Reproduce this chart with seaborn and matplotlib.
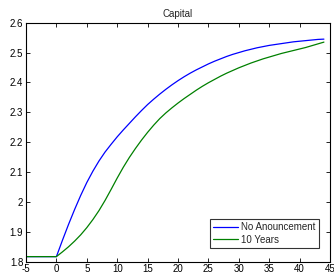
import numpy as np
import pandas as pd
import matplotlib
matplotlib.use("Agg")
import matplotlib.pyplot as plt
import seaborn as sns

# Data
t = [-5] + list(range(0, 45))
no_announcement = [1.817,
                   1.817, 1.872, 1.925, 1.975, 2.022, 2.065, 2.103, 2.137, 2.167, 2.193,
                   2.218, 2.241, 2.263, 2.285, 2.306, 2.326, 2.344, 2.361, 2.377, 2.392,
                   2.406, 2.419, 2.431, 2.442, 2.452, 2.462, 2.471, 2.479, 2.487, 2.494,
                   2.500, 2.506, 2.511, 2.516, 2.520, 2.524, 2.527, 2.530, 2.533, 2.536,
                   2.538, 2.540, 2.542, 2.544, 2.545]
ten_years = [1.817,
             1.817, 1.833, 1.850, 1.869, 1.890, 1.914, 1.941, 1.971, 2.005, 2.042,
             2.080, 2.116, 2.149, 2.179, 2.207, 2.233, 2.257, 2.279, 2.298, 2.315,
             2.331, 2.346, 2.360, 2.374, 2.387, 2.399, 2.410, 2.421, 2.431, 2.440,
             2.449, 2.457, 2.465, 2.472, 2.479, 2.485, 2.491, 2.497, 2.502, 2.507,
             2.512, 2.517, 2.523, 2.529, 2.535]
series_names = ["No Anouncement", "10 Years"]
x_ticks = list(range(-5, 50, 5))
y_ticks = [1.8, 1.9, 2.0, 2.1, 2.2, 2.3, 2.4, 2.5, 2.6]

df = pd.concat([
    pd.DataFrame({"t": t, "capital": no_announcement, "series": series_names[0]}),
    pd.DataFrame({"t": t, "capital": ten_years, "series": series_names[1]}),
])

sns.set_style("white")
plt.rcParams["font.family"] = ["Liberation Sans", "DejaVu Sans"]

fig = plt.figure(figsize=(3.34, 2.72), dpi=100)
ax = fig.add_axes([26 / 334, 10.3 / 272, 304 / 334, 239 / 272])

sns.lineplot(data=df, x="t", y="capital", hue="series", palette=["#0000ff", "#008000"],
             linewidth=0.9, ax=ax)

ax.set_xlim(-5, 45)
ax.set_ylim(1.8, 2.6)
ax.set_xticks(x_ticks)
ax.set_yticks(y_ticks)
ax.xaxis.set_major_formatter(matplotlib.ticker.FuncFormatter(lambda v, p: "%g" % v))
ax.yaxis.set_major_formatter(matplotlib.ticker.FuncFormatter(lambda v, p: "%g" % v))
ax.tick_params(direction="in", length=3, width=0.6, labelsize=7, pad=2,
               top=True, right=True, bottom=True, left=True, colors="black")
ax.set_xlabel("")
ax.set_ylabel("")
ax.set_title("Capital", fontsize=7, pad=4)
for s in ax.spines.values():
    s.set_color("black")
    s.set_linewidth(0.8)

leg = ax.legend(loc="lower right", fontsize=7, frameon=True, fancybox=False,
                handlelength=2.6, handletextpad=0.3, borderpad=0.35, labelspacing=0.25,
                borderaxespad=0, bbox_to_anchor=(0.964, 0.057))
leg.get_frame().set_edgecolor("black")
leg.get_frame().set_linewidth(0.8)

fig.savefig("out.png", dpi=100)
